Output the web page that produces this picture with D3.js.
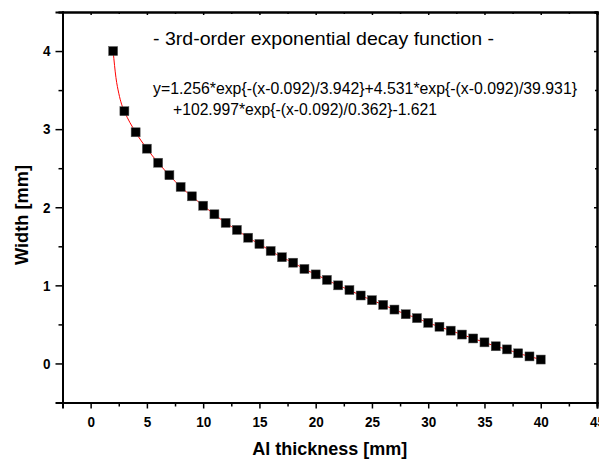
<!DOCTYPE html>
<html>
<head>
<meta charset="utf-8">
<script src="https://cdn.jsdelivr.net/npm/d3@7"></script>
<style>
  html, body { margin: 0; padding: 0; background: #fff; }
  svg { display: block; font-family: "Liberation Sans", Arial, sans-serif; }
</style>
</head>
<body>
<svg id="chart" width="599" height="460"></svg>
<script>
// Data
const thickness = [2,3,4,5,6,7,8,9,10,11,12,13,14,15,16,17,18,19,20,21,22,23,24,25,26,27,28,29,30,31,32,33,34,35,36,37,38,39,40];
const widthVals = [4.00,3.23,2.96,2.75,2.57,2.41,2.26,2.14,2.02,1.91,1.80,1.71,1.61,1.53,1.44,1.36,1.29,1.21,1.14,1.07,1.00,0.94,0.87,0.81,0.75,0.69,0.63,0.58,0.52,0.47,0.42,0.37,0.32,0.27,0.22,0.18,0.13,0.09,0.05];
// Fit curve (red line) points
const fitX = [2,2.25,2.5,2.75,3,4,5,6,7,8,9,10,11,12,13,14,15,16,17,18,19,20,21,22,23,24,25,26,27,28,29,30,31,32,33,34,35,36,37,38,39,40];
const fitY = [4.00,3.66,3.46,3.32,3.23,2.96,2.75,2.57,2.41,2.26,2.14,2.02,1.91,1.80,1.71,1.61,1.53,1.44,1.36,1.29,1.21,1.14,1.07,1.00,0.94,0.87,0.81,0.75,0.69,0.63,0.58,0.52,0.47,0.42,0.37,0.32,0.27,0.22,0.18,0.13,0.09,0.05];
const xTicks = [0,5,10,15,20,25,30,35,40,45];
const yTicks = [0,1,2,3,4];
const xDomain = [-2.5, 45];
const yDomain = [-0.5, 4.5];
const titleText = "- 3rd-order exponential decay function -";
const eqLine1 = "y=1.256*exp{-(x-0.092)/3.942}+4.531*exp{-(x-0.092)/39.931}";
const eqLine2 = "+102.997*exp{-(x-0.092)/0.362}-1.621";
const xLabel = "Al thickness [mm]";
const yLabel = "Width [mm]";

const svg = d3.select("#chart");
const L = 62.5, R = 597, T = 12, B = 402.5;
const x = d3.scaleLinear().domain(xDomain).range([L, R]);
const y = d3.scaleLinear().domain(yDomain).range([B, T]);

const xMinor = d3.range(-2.5, 45.01, 2.5).filter(v => !xTicks.includes(v));
const yMinor = d3.range(-0.5, 4.51, 0.5).filter(v => !yTicks.includes(v));

// Bottom axis
svg.append("g").attr("transform", `translate(0,${B})`)
  .call(d3.axisBottom(x).tickValues(xTicks).tickSize(6).tickPadding(8).tickFormat(d3.format("d")));
svg.append("g").attr("transform", `translate(0,${B})`)
  .call(d3.axisBottom(x).tickValues(xMinor).tickSize(4).tickFormat(""));
// Left axis
svg.append("g").attr("transform", `translate(${L},0)`)
  .call(d3.axisLeft(y).tickValues(yTicks).tickSize(7).tickPadding(5).tickFormat(d3.format("d")));
svg.append("g").attr("transform", `translate(${L},0)`)
  .call(d3.axisLeft(y).tickValues(yMinor).tickSize(4).tickFormat(""));
// Top axis (inward ticks)
svg.append("g").attr("transform", `translate(0,${T})`)
  .call(d3.axisTop(x).tickValues(xTicks).tickSize(-3).tickFormat(""));
svg.append("g").attr("transform", `translate(0,${T})`)
  .call(d3.axisTop(x).tickValues(xMinor).tickSize(-2).tickFormat(""));
// Right axis (inward ticks)
svg.append("g").attr("transform", `translate(${R},0)`)
  .call(d3.axisRight(y).tickValues(yTicks).tickSize(-3).tickFormat(""));
svg.append("g").attr("transform", `translate(${R},0)`)
  .call(d3.axisRight(y).tickValues(yMinor).tickSize(-2).tickFormat(""));

svg.selectAll(".domain").attr("stroke", "#000").attr("stroke-width", 2);
svg.selectAll(".tick line").attr("stroke", "#000").attr("stroke-width", 1.5);
svg.selectAll(".tick text").attr("font-size", 15).attr("font-weight", "bold")
  .attr("font-family", "'Liberation Sans', Arial, sans-serif").attr("fill", "#000")
  .attr("transform", "scale(0.9,1)")
  .attr("x", function() { return +d3.select(this).attr("x") / 0.9; });

// Fit line
const line = d3.line().x((d, i) => x(fitX[i])).y((d, i) => y(fitY[i])).curve(d3.curveMonotoneX);
svg.append("path").datum(fitY).attr("d", line).attr("fill", "none").attr("stroke", "#ff0000").attr("stroke-width", 1);

// Markers
const s = 9;
svg.append("g").selectAll("rect").data(widthVals).join("rect")
  .attr("x", (d, i) => x(thickness[i]) - s / 2)
  .attr("y", d => y(d) - s / 2)
  .attr("width", s).attr("height", s)
  .attr("fill", "#000").attr("stroke", "#555").attr("stroke-width", 0.5);

// Annotations
svg.append("text").attr("x", 153).attr("y", 45).attr("font-size", 18.5)
  .attr("textLength", 341).attr("lengthAdjust", "spacingAndGlyphs").text(titleText);
svg.append("text").attr("x", 153).attr("y", 94).attr("font-size", 16.5)
  .attr("textLength", 424).attr("lengthAdjust", "spacingAndGlyphs").text(eqLine1);
svg.append("text").attr("x", 173).attr("y", 115).attr("font-size", 16.5)
  .attr("textLength", 264).attr("lengthAdjust", "spacingAndGlyphs").text(eqLine2);

// Axis titles
svg.append("text").attr("x", (L + R) / 2).attr("y", 455).attr("text-anchor", "middle")
  .attr("font-size", 18).attr("font-weight", "bold")
  .attr("textLength", 155).attr("lengthAdjust", "spacingAndGlyphs").text(xLabel);
svg.append("text").attr("transform", "translate(28,215) rotate(-90)").attr("text-anchor", "middle")
  .attr("font-size", 19).attr("font-weight", "bold")
  .attr("textLength", 100).attr("lengthAdjust", "spacingAndGlyphs").text(yLabel);
</script>
</body>
</html>
